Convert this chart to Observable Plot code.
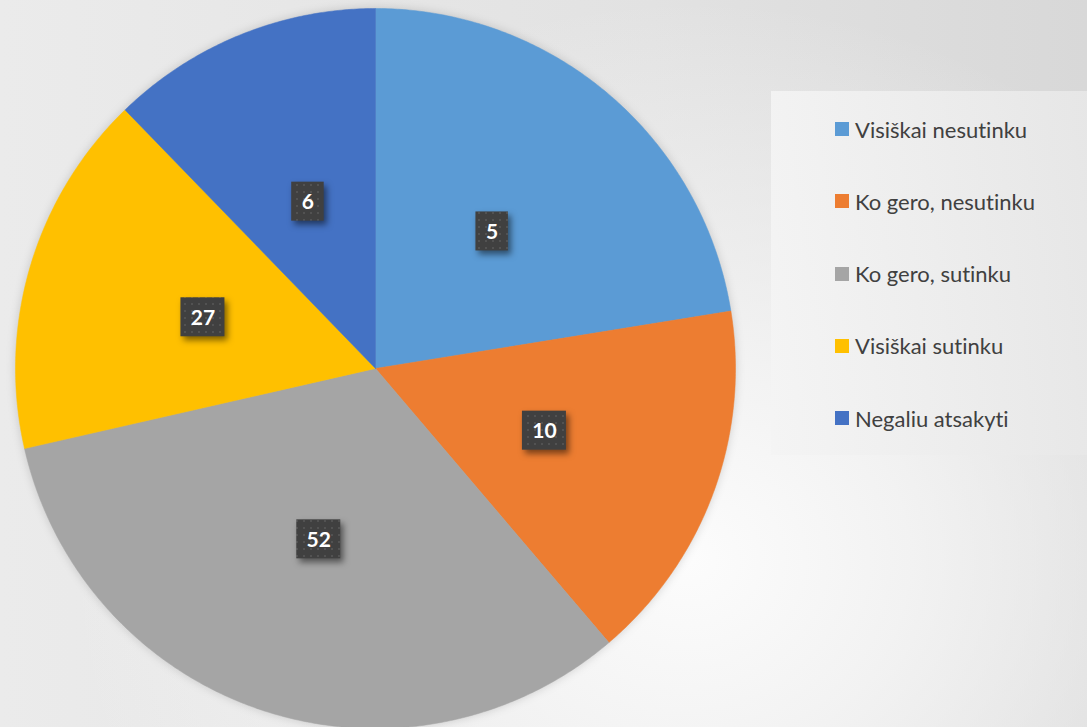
<!DOCTYPE html>
<html>
<head>
<meta charset="utf-8">
<script src="https://cdn.jsdelivr.net/npm/d3@7"></script>
<script src="https://cdn.jsdelivr.net/npm/@observablehq/plot@0.6"></script>
<style>
  html, body { margin: 0; padding: 0; }
  #wrap {
    position: relative; width: 1087px; height: 727px; overflow: hidden;
    background:
      radial-gradient(ellipse 620px 560px at 690px 560px, rgba(252,252,252,1) 0%, rgba(246,246,246,0.85) 35%, rgba(240,240,240,0) 100%),
      linear-gradient(to right, #ebebeb 0%, #e2e2e2 60%, #d8d8d8 100%);
  }
  #chart { position: absolute; left: 0; top: 0; }
  #legend {
    position: absolute; left: 771px; top: 91px; width: 316px; height: 364px;
    background: linear-gradient(to right, rgba(244,244,244,0.9), rgba(232,232,232,0.9));
    font-family: Lato, "Open Sans", sans-serif; font-size: 22px; color: #404040;
    font-variant-ligatures: none;
  }
  .item { position: absolute; left: 64px; height: 26px; display: flex; align-items: center; white-space: nowrap; }
  .sw { width: 14px; height: 14px; margin-right: 6px; }
</style>
</head>
<body>
<div id="wrap">
  <div id="chart"></div>
  <div id="legend"></div>
</div>
<script>
const categories = ["Visiškai nesutinku", "Ko gero, nesutinku", "Ko gero, sutinku", "Visiškai sutinku", "Negaliu atsakyti"];
const sliceValues = [11, 8, 16, 8, 6];
const labelValues = [5, 10, 52, 27, 6];
const colors = ["#5B9BD5", "#ED7D31", "#A5A5A5", "#FFC000", "#4472C4"];

const W = 1087, H = 727;
const R = 360, CX = 375, CY = 368;

const arcs = d3.pie().sort(null).value(d => d)(sliceValues);

function slicePoly(a0, a1) {
  const pts = [{x: 0, y: 0}];
  const n = Math.max(2, Math.ceil((a1 - a0) / (Math.PI / 360)));
  for (let i = 0; i <= n; i++) {
    const a = a0 + (a1 - a0) * i / n;
    pts.push({x: Math.sin(a), y: -Math.cos(a)});
  }
  pts.push({x: 0, y: 0});
  return pts;
}

const slices = arcs.map((a, i) => ({key: categories[i], color: colors[i], pts: slicePoly(a.startAngle, a.endAngle)}));
const circle = slicePoly(0, 2 * Math.PI);

const labels = arcs.map((a, i) => {
  const m = (a.startAngle + a.endAngle) / 2;
  const txt = String(labelValues[i]);
  const hw = (txt.length * 11.5 + 21) / 2 / R;
  const hh = 19.5 / R;
  const x = 0.5 * Math.sin(m), y = -0.5 * Math.cos(m);
  return {x, y, txt, x1: x - hw, x2: x + hw, y1: y - hh, y2: y + hh};
});

const marks = [
  Plot.line(circle, {x: "x", y: "y", fill: "#000", stroke: "none", fillOpacity: 0.16}),
  ...slices.map(s => Plot.line(s.pts, {x: "x", y: "y", fill: s.color, stroke: s.color, strokeWidth: 0.5})),
  Plot.rect(labels, {x1: "x1", x2: "x2", y1: "y1", y2: "y2", fill: "#404040"}),
  Plot.text(labels, {x: "x", y: "y", text: "txt", fill: "white", fontWeight: "bold", fontSize: 21, fontFamily: "Lato, 'Open Sans', sans-serif", dy: 1})
];

const svg = Plot.plot({
  width: W, height: H,
  margin: 0,
  style: {background: "transparent", overflow: "visible"},
  x: {domain: [-CX / R, (W - CX) / R], range: [0, W], axis: null},
  y: {domain: [-CY / R, (H - CY) / R], range: [0, H], axis: null},
  marks
});

// effects (select before adding pattern defs)
const boxRects = Array.from(svg.querySelectorAll("rect"));
const firstPath = svg.querySelector("path");

const defs = d3.select(svg).insert("defs", ":first-child");
const pat = defs.append("pattern").attr("id", "dots").attr("patternUnits", "userSpaceOnUse")
  .attr("width", 7).attr("height", 7);
pat.append("rect").attr("width", 7).attr("height", 7).attr("fill", "#404040");
pat.append("rect").attr("x", 2).attr("y", 2).attr("width", 2).attr("height", 2).attr("fill", "#525252");

boxRects.forEach(r => {
  r.setAttribute("fill", "url(#dots)");
  r.style.filter = "drop-shadow(3px 4px 3px rgba(0,0,0,0.5))";
});
if (firstPath) firstPath.style.filter = "blur(5px)";

document.getElementById("chart").appendChild(svg);

// legend
const legend = d3.select("#legend");
categories.forEach((c, i) => {
  const it = legend.append("div").attr("class", "item").style("top", (38 + i * 72.3 - 13) + "px");
  it.append("div").attr("class", "sw").style("background", colors[i]);
  it.append("span").text(c);
});
</script>
</body>
</html>
